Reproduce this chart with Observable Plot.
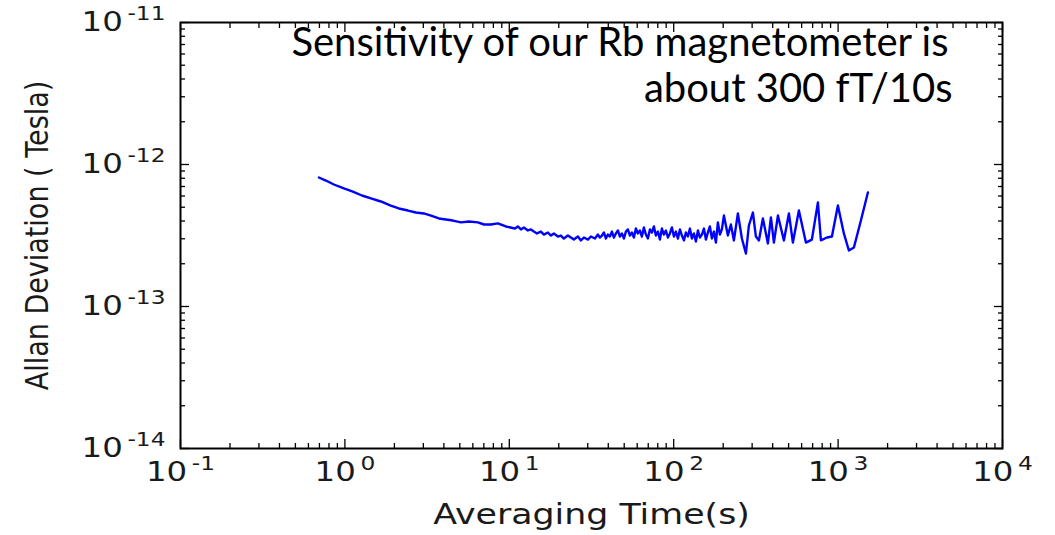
<!DOCTYPE html>
<html>
<head>
<meta charset="utf-8">
<script src="https://cdn.jsdelivr.net/npm/d3@7"></script>
<script src="https://cdn.jsdelivr.net/npm/@observablehq/plot@0.6"></script>
<style>
  html, body { margin: 0; padding: 0; background: #fff; }
  #chart { width: 1055px; height: 535px; }
</style>
</head>
<body>
<div id="chart"></div>
<script>
// Averaging time (s)
const tau = [0.695,0.766,0.857,0.986,1.118,1.269,1.44,1.655,1.90,2.13,2.42,2.70,3.02,3.34,3.73,4.11,4.54,5.08,5.68,6.44,7.01,7.73,8.52,9.53,10.2,
  10.82,11.28,11.77,12.27,12.98,13.53,14.11,14.72,15.57,16.24,17.17,17.91,18.68,19.75,20.60,21.48,22.72,23.70,24.71,26.14,27.26,28.43,30.07,31.36,33.17,
  34.59,35.57,36.58,37.62,38.69,39.79,40.92,42.08,43.28,44.51,45.77,47.07,48.41,49.79,51.20,52.65,54.15,55.69,57.27,58.89,
  60.56,62.28,64.05,65.88,67.75,69.67,71.65,73.69,75.78,77.93,80.14,82.42,84.76,87.17,89.65,92.19,94.81,97.51,100.3,103.1,
  106.1,109.1,112.2,115.4,118.6,122.0,125.5,129.0,132.7,136.5,140.4,144.3,148.4,152.7,157.0,161.4,166.0,170.8,175.6,180.6,
  185.7,191.0,196.4,
  202.0,213.6,222.8,232.4,245.7,259.9,274.9,286.7,303.2,316.2,329.8,348.8,374.1,390.2,406.9,430.4,468.1,502.1,530.9,577.4,
  637.0,692.6,753.7,786.1,855.0,917.1,997.2,1084,1163,1248,1376,1518];
// Allan deviation (Tesla)
const sigma = [8.10e-13,7.71e-13,7.23e-13,6.78e-13,6.45e-13,6.05e-13,5.77e-13,5.49e-13,5.14e-13,4.90e-13,4.74e-13,4.59e-13,4.52e-13,4.37e-13,4.17e-13,
  4.10e-13,4.03e-13,3.91e-13,3.97e-13,3.91e-13,3.78e-13,3.78e-13,3.85e-13,3.66e-13,3.60e-13,
  3.54e-13,3.66e-13,3.49e-13,3.60e-13,3.43e-13,3.49e-13,3.37e-13,3.27e-13,3.37e-13,3.21e-13,3.32e-13,3.16e-13,3.27e-13,3.11e-13,3.16e-13,
  3.01e-13,3.16e-13,3.06e-13,2.96e-13,3.11e-13,2.92e-13,3.06e-13,2.96e-13,3.11e-13,3.01e-13,
  3.21e-13,3.06e-13,3.16e-13,3.32e-13,3.01e-13,3.21e-13,3.11e-13,3.37e-13,3.06e-13,3.27e-13,3.43e-13,3.11e-13,3.27e-13,3.01e-13,3.37e-13,
  3.49e-13,3.16e-13,3.32e-13,3.06e-13,3.54e-13,3.27e-13,3.43e-13,3.11e-13,3.60e-13,3.21e-13,3.01e-13,3.49e-13,3.32e-13,3.66e-13,3.16e-13,
  3.37e-13,2.96e-13,3.54e-13,3.21e-13,3.43e-13,3.06e-13,3.27e-13,3.60e-13,3.11e-13,3.37e-13,3.01e-13,3.49e-13,3.16e-13,2.92e-13,3.32e-13,
  3.11e-13,3.54e-13,3.01e-13,3.27e-13,2.87e-13,3.43e-13,3.06e-13,3.21e-13,3.54e-13,2.96e-13,3.32e-13,3.66e-13,3.01e-13,3.37e-13,2.82e-13,
  3.91e-13,3.21e-13,3.49e-13,
  4.37e-13,3.16e-13,3.78e-13,2.92e-13,4.52e-13,3.01e-13,2.36e-13,3.72e-13,4.59e-13,3.11e-13,2.92e-13,4.17e-13,2.78e-13,4.24e-13,2.82e-13,
  4.37e-13,2.92e-13,4.52e-13,2.82e-13,4.74e-13,2.82e-13,2.96e-13,5.40e-13,2.92e-13,3.06e-13,3.11e-13,5.14e-13,3.27e-13,2.48e-13,2.60e-13,
  4.03e-13,6.35e-13];

const xMajor = [0.1, 1, 10, 100, 1000, 10000];
const xTickLabels = ["10^-1", "10^0", "10^1", "10^2", "10^3", "10^4"];
const yMajor = [1e-14, 1e-13, 1e-12, 1e-11];
const yTickLabels = ["10^-14", "10^-13", "10^-12", "10^-11"];
const minorMultipliers = [2, 3, 4, 5, 6, 7, 8, 9];

const xLabel = "Averaging Time(s)";
const yLabel = "Allan Deviation ( Tesla)";
const note1 = "Sensitivity of our Rb magnetometer is";
const note2 = "about 300 fT/10s";

const xMinor = xMajor.slice(0, -1).flatMap(d => minorMultipliers.map(m => d * m));
const yMinor = yMajor.slice(0, -1).flatMap(d => minorMultipliers.map(m => d * m));
const n = Math.min(tau.length, sigma.length);
const data = tau.slice(0, n).map((t, i) => ({tau: t, sigma: sigma[i]}));

const tickOnly = {tickFormat: () => "", label: null, strokeWidth: 1.3, stroke: "#000"};

const chart = Plot.plot({
  width: 1055,
  height: 535,
  marginLeft: 180,
  marginRight: 53,
  marginTop: 22,
  marginBottom: 87,
  style: {background: "#fff", fontFamily: "'DejaVu Sans', sans-serif", color: "#1a1a1a", overflow: "visible"},
  x: {type: "log", domain: [0.1, 1e4]},
  y: {type: "log", domain: [1e-14, 1e-11]},
  marks: [
    Plot.line(data, {x: "tau", y: "sigma", stroke: "#0000ff", strokeWidth: 2.4, strokeLinejoin: "round"}),
    // major ticks (inward, mirrored)
    Plot.axisX(xMajor, {anchor: "bottom", tickSize: -9, ...tickOnly}),
    Plot.axisX(xMajor, {anchor: "top", tickSize: -9, ...tickOnly}),
    Plot.axisY(yMajor, {anchor: "left", tickSize: -9, ...tickOnly}),
    Plot.axisY(yMajor, {anchor: "right", tickSize: -9, ...tickOnly}),
    // minor ticks
    Plot.axisX(xMinor, {anchor: "bottom", tickSize: -5, ...tickOnly}),
    Plot.axisX(xMinor, {anchor: "top", tickSize: -5, ...tickOnly}),
    Plot.axisY(yMinor, {anchor: "left", tickSize: -5, ...tickOnly}),
    Plot.axisY(yMinor, {anchor: "right", tickSize: -5, ...tickOnly}),
    // tick labels
    Plot.axisX(xMajor, {anchor: "bottom", tickSize: 0, tickPadding: 13, fontSize: 27, label: null,
      tickFormat: d => xTickLabels[xMajor.indexOf(d)]}),
    Plot.axisY(yMajor, {anchor: "left", tickSize: 0, tickPadding: 15, fontSize: 27, label: null,
      tickFormat: d => yTickLabels[yMajor.indexOf(d)]}),
    Plot.frame({stroke: "#000", strokeWidth: 2}),
    // axis titles
    Plot.text([xLabel], {frameAnchor: "bottom", dy: 75, fontSize: 29, fill: "#1a1a1a"}),
    Plot.text([yLabel], {frameAnchor: "left", textAnchor: "middle", rotate: -90, dx: -143, fontSize: 27, fill: "#1a1a1a"}),
    // annotation
    Plot.text([note1], {frameAnchor: "top-right", textAnchor: "end", dx: -54, dy: 5, fontSize: 40,
      fontFamily: "Lato, 'Open Sans', sans-serif", fill: "#000"}),
    Plot.text([note2], {frameAnchor: "top-right", textAnchor: "end", dx: -50, dy: 51, fontSize: 40,
      fontFamily: "Lato, 'Open Sans', sans-serif", fill: "#000"})
  ]
});

const ns = "http://www.w3.org/2000/svg";
chart.querySelectorAll("text").forEach(t => {
  const txt = t.textContent;
  const m = /^10\^(-?\d+)$/.exec(txt);
  if (m) {
    t.textContent = "";
    const a = document.createElementNS(ns, "tspan");
    a.textContent = "10";
    const b = document.createElementNS(ns, "tspan");
    b.textContent = m[1];
    b.setAttribute("font-size", "0.72em");
    b.setAttribute("dy", "-0.55em");
    b.setAttribute("dx", "0.2em");
    t.append(a, b);
  }
  if (txt === note1 || txt === note2) return;
  const tr = t.getAttribute("transform");
  if (tr && /translate\(/.test(tr)) {
    t.setAttribute("transform", tr.replace(/(translate\([^)]*\))/, "$1 scale(1.2,1)"));
  }
});

document.getElementById("chart").append(chart);
</script>
</body>
</html>
